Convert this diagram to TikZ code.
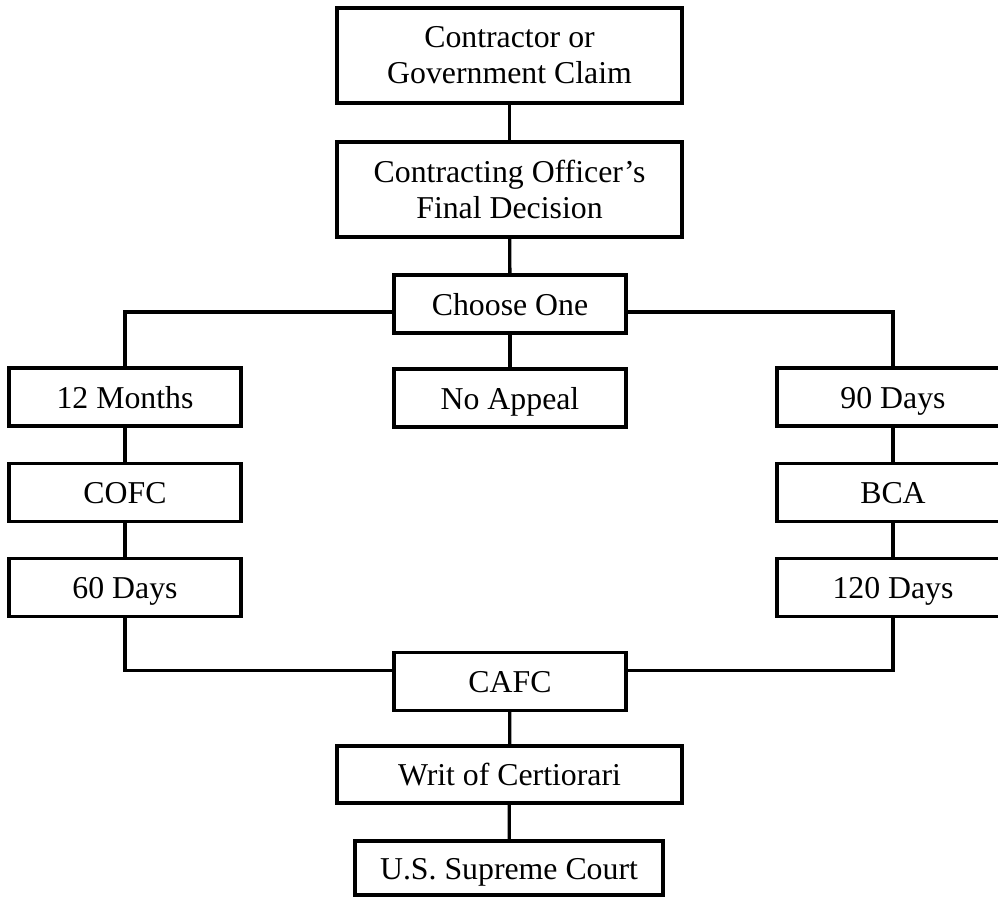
\documentclass[tikz,border=0pt]{standalone}
\usepackage{fontspec}
\setmainfont{Liberation Serif}
\begin{document}
\begin{tikzpicture}[x=1pt,y=1pt,
  box/.style={draw, line width=3.4pt, inner sep=0pt, align=center,
    font=\fontsize{31.8}{36}\selectfont},
  oneline/.style={box, text height=22pt, text depth=0pt},
  widebox/.style={box, minimum width=345pt, minimum height=95pt},
  smallbox/.style={oneline, minimum width=232pt, minimum height=58pt},
  conn/.style={line width=3.3pt}]
\useasboundingbox (0,0) rectangle (998,-897);
\node[widebox] (claim) at (509.5,-55.5) {Contractor or\\Government Claim};
\node[widebox] (cofd) at (509.5,-189.5) {Contracting Officer’s\\Final Decision};
\node[smallbox] (choose) at (510,-304) {Choose One};
\node[smallbox] (m12) at (125,-397) {12 Months};
\node[smallbox] (noapp) at (510,-398) {No Appeal};
\node[smallbox] (d90) at (893,-397) {90 Days};
\node[smallbox] (cofc) at (125,-492.5) {COFC};
\node[smallbox] (bca) at (893,-492.5) {BCA};
\node[smallbox] (d60) at (125,-587.5) {60 Days};
\node[smallbox] (d120) at (893,-587.5) {120 Days};
\node[smallbox] (cafc) at (510,-681.5) {CAFC};
\node[oneline, minimum width=345pt, minimum height=57pt] (writ) at (509.5,-774.5) {Writ of Certiorari};
\node[oneline, minimum width=308pt, minimum height=54pt] (sc) at (509,-868) {U.S. Supreme Court};
\draw[conn] (claim) -- (cofd);
\draw[conn] (cofd) -- (choose);
\draw[conn] (choose) -- (noapp);
\draw[conn] ([yshift=-8pt]choose.west) -| (m12);
\draw[conn] ([yshift=-8pt]choose.east) -| (d90);
\draw[conn] (m12) -- (cofc);
\draw[conn] (cofc) -- (d60);
\draw[conn] (d90) -- (bca);
\draw[conn] (bca) -- (d120);
\draw[conn] (d60) |- ([yshift=11pt]cafc.west);
\draw[conn] (d120) |- ([yshift=11pt]cafc.east);
\draw[conn] (cafc) -- (writ);
\draw[conn] (writ) -- (sc);
\end{tikzpicture}
\end{document}
